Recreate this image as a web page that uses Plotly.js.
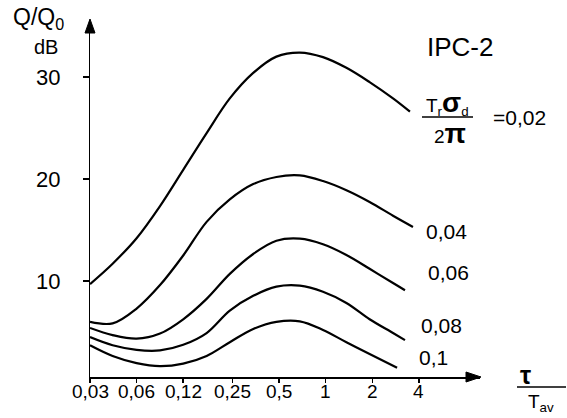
<!DOCTYPE html>
<html><head><meta charset="utf-8">
<script src="https://cdn.plot.ly/plotly-3.0.1.min.js"></script>
<style>html,body{margin:0;padding:0;background:#fff}#chart{width:567px;height:418px}</style>
</head><body><div id="chart"></div>
<script>
// Data (tau/Tav on log axis, Q/Q0 in dB)
const tau002 = [0.03,0.042,0.06,0.085,0.12,0.17,0.24,0.34,0.48,0.68,0.96,1.36,1.92,2.72,3.5];
const q002   = [9.7,11.7,14.2,17.35,20.9,24.5,27.9,30.4,32.0,32.4,31.95,30.9,29.5,27.9,26.6];
const tau004 = [0.03,0.042,0.06,0.085,0.12,0.17,0.24,0.34,0.48,0.68,0.96,1.36,1.92,2.72,3.66];
const q004   = [6.0,5.85,7.3,9.6,12.5,15.8,18.0,19.5,20.2,20.35,19.8,18.9,17.75,16.4,15.3];
const tau006 = [0.03,0.042,0.06,0.085,0.12,0.17,0.24,0.34,0.48,0.68,0.96,1.36,1.92,2.72,3.25];
const q006   = [5.4,4.7,4.35,4.85,6.25,8.25,10.7,12.65,13.95,14.15,13.6,12.55,11.2,9.8,9.1];
const tau008 = [0.03,0.042,0.06,0.085,0.12,0.17,0.24,0.34,0.48,0.68,0.96,1.36,1.92,2.72,3.25];
const q008   = [4.5,3.7,3.25,3.2,3.75,4.9,7.1,8.55,9.45,9.55,8.95,7.85,6.25,4.9,4.2];
const tau010 = [0.03,0.042,0.06,0.085,0.12,0.17,0.24,0.34,0.48,0.68,0.96,1.36,1.92,2.89];
const q010   = [3.7,2.65,1.95,1.65,1.9,2.65,4.0,5.3,6.0,6.05,5.2,4.0,2.85,1.5];

const xTickVals = [0.03,0.06,0.12,0.25,0.5,1,2,4];
const xTickText = ['0,03','0,06','0,12','0,25','0,5','1','2','4'];
const yTickVals = [10,20,30];
const yTickText = ['10','20','30'];
const curveLabels = ['=0,02','0,04','0,06','0,08','0,1'];

const FONT = 'Liberation Sans, Arial, sans-serif';
const W = 567, H = 418, L = 90, R = 480, T = 20, B = 377;
const px = x => (x - L) / (R - L);
const py = y => (B - y) / (B - T);

const series = [[tau002,q002],[tau004,q004],[tau006,q006],[tau008,q008],[tau010,q010]];
const traces = series.map(([x,y]) => ({
  x: x, y: y, type: 'scatter', mode: 'lines',
  line: {color: '#000', width: 2.2, shape: 'spline', smoothing: 1},
  hoverinfo: 'skip', showlegend: false
}));

function ann(text, cx, cy, size, extra) {
  return Object.assign({text: text, xref: 'paper', yref: 'paper', x: px(cx), y: py(cy),
    xanchor: 'center', yanchor: 'middle', showarrow: false,
    font: {family: FONT, size: size, color: '#000'}}, extra || {});
}

// tick labels placed through the axes' own scales
const xTickAnns = xTickVals.map((v,i) => ({
  text: xTickText[i], xref: 'x', yref: 'paper', x: Math.log10(v), y: py(391),
  xanchor: 'center', yanchor: 'middle', showarrow: false,
  font: {family: FONT, size: 19, color: '#000'}
}));
const yTickAnns = yTickVals.map((v,i) => ({
  text: yTickText[i], xref: 'paper', yref: 'y', x: px(62), y: v,
  xanchor: 'right', yanchor: 'middle', showarrow: false,
  font: {family: FONT, size: 22, color: '#000'}
}));

const labelPos = [[519,117],[446,231],[448,272],[441,325],[433,357]];
const annotations = [
  ann('Q/Q<sub>0</sub>', 38, 18, 23),
  ann('dB', 46, 47, 20),
  ann('IPC-2', 460, 47, 26),
  ann('T<sub>r</sub><span style="font-size:28px"><b>σ</b></span><sub>d</sub>', 447, 103, 19),
  ann('2<span style="font-size:28px"><b>π</b></span>', 450, 133, 19),
  ann('<b>τ</b>', 525, 375, 25),
  ann('T<sub>av</sub>', 541, 403, 19)
].concat(curveLabels.map((t,i) => ann(t, labelPos[i][0], labelPos[i][1], 21)))
 .concat(xTickAnns).concat(yTickAnns);

const shapes = [
  {type:'line', xref:'paper', yref:'paper', x0:px(422), x1:px(473), y0:py(117), y1:py(117), line:{color:'#000', width:1.5}},
  {type:'line', xref:'paper', yref:'paper', x0:px(517), x1:px(566), y0:py(387), y1:py(387), line:{color:'#000', width:1.5}},
  {type:'path', xref:'paper', yref:'paper', fillcolor:'#000', line:{color:'#000', width:1},
    path:`M ${px(85)},${py(33)} L ${px(90)},${py(19)} L ${px(95)},${py(33)} Z`},
  {type:'path', xref:'paper', yref:'paper', fillcolor:'#000', line:{color:'#000', width:1},
    path:`M ${px(466)},${py(372)} L ${px(481)},${py(377)} L ${px(466)},${py(382)} Z`}
];

const layout = {
  width: W, height: H,
  margin: {l: L, r: W - R, t: T, b: H - B, pad: 0},
  paper_bgcolor: '#fff', plot_bgcolor: '#fff',
  showlegend: false,
  font: {family: FONT, color: '#000'},
  xaxis: {
    type: 'log', range: [Math.log10(0.03), Math.log10(0.03) + 390/154.8],
    tickvals: xTickVals, showticklabels: false,
    ticks: 'outside', ticklen: 4, tickwidth: 1.5, tickcolor: '#000',
    showline: true, linecolor: '#000', linewidth: 1.5,
    showgrid: false, zeroline: false
  },
  yaxis: {
    range: [0.59, 35.59],
    tickvals: yTickVals, showticklabels: false,
    ticks: 'outside', ticklen: 6, tickwidth: 1.5, tickcolor: '#000',
    showline: true, linecolor: '#000', linewidth: 1.5,
    showgrid: false, zeroline: false
  },
  annotations: annotations,
  shapes: shapes
};

Plotly.newPlot('chart', traces, layout, {staticPlot: true, displayModeBar: false});
</script>
</body></html>
